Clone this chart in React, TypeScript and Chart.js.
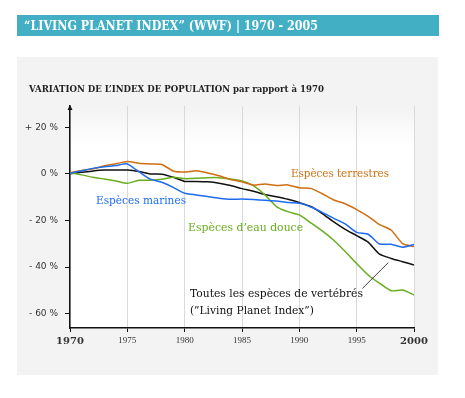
import React, { useEffect, useRef } from "react";
import { Chart, registerables } from "chart.js";

Chart.register(...registerables);

// ---------- DATA ----------
const years = [
  1970, 1971, 1972, 1973, 1974, 1975, 1976, 1977, 1978, 1979,
  1980, 1981, 1982, 1983, 1984, 1985, 1986, 1987, 1988, 1989,
  1990, 1991, 1992, 1993, 1994, 1995, 1996, 1997, 1998, 1999, 2000,
];

const terrestres = [
  0.5, 1.5, 2.2, 3.5, 4.4, 5.3, 4.6, 4.3, 4.1, 1.3,
  0.8, 1.4, 0.4, -0.8, -2.4, -3.4, -4.8, -4.3, -5.0, -4.7,
  -5.9, -6.2, -8.5, -11.2, -12.8, -15.3, -18.2, -21.8, -24.1, -29.9, -31.2,
];

const marines = [
  0.3, 1.3, 2.4, 3.1, 3.6, 4.3, 1.0, -2.2, -3.6, -5.8,
  -8.3, -9.0, -9.7, -10.4, -10.9, -10.8, -11.0, -11.3, -11.6, -12.3,
  -12.6, -14.2, -16.5, -19.1, -21.5, -25.1, -25.9, -30.1, -30.2, -31.5, -30.3,
];

const eauDouce = [
  0.5, -0.4, -1.4, -2.2, -3.0, -4.0, -2.7, -2.7, -2.3, -1.4,
  -2.0, -1.9, -1.6, -1.6, -2.2, -3.0, -5.0, -9.0, -14.0, -16.2,
  -17.6, -21.0, -24.5, -28.5, -33.3, -38.5, -43.4, -47.0, -50.2, -49.9, -52.0,
];

const vertebres = [
  0.1, 0.7, 1.3, 1.7, 1.7, 1.7, 1.1, 0.0, -0.1, -1.4,
  -3.2, -3.2, -3.4, -4.0, -5.0, -6.3, -7.4, -8.8, -9.8, -10.9,
  -12.3, -14.0, -17.0, -20.6, -23.8, -26.5, -29.3, -34.5, -36.3, -37.7, -39.1,
];

const seriesNames = [
  "Espèces terrestres",
  "Espèces marines",
  "Espèces d’eau douce",
  "Toutes les espèces de vertébrés",
];
const indexLabel = "(”Living Planet Index”)";

const yTickValues = [20, 0, -20, -40, -60];
const xTickValues = [1970, 1975, 1980, 1985, 1990, 1995, 2000];

const titleText = "“LIVING PLANET INDEX” (WWF) | 1970 - 2005";
const subtitleText = "VARIATION DE L’INDEX DE POPULATION par rapport à 1970";

// ---------- STYLE ----------
const COL_ORANGE = "#cf6e12";
const COL_BLUE = "#1f6bef";
const COL_GREEN = "#68ac1f";
const COL_BLACK = "#111111";

function drawFit(
  ctx: CanvasRenderingContext2D,
  text: string,
  x: number,
  y: number,
  font: string,
  color: string,
  width: number,
  baseline: CanvasTextBaseline = "alphabetic"
) {
  ctx.save();
  ctx.font = font;
  ctx.fillStyle = color;
  ctx.textAlign = "left";
  ctx.textBaseline = baseline;
  const w = ctx.measureText(text).width;
  ctx.translate(x, y);
  ctx.scale(width / w, 1);
  ctx.fillText(text, 0, 0);
  ctx.restore();
}

const decorPlugin = {
  id: "decor",
  beforeDraw(chart: any) {
    const { ctx, chartArea: a } = chart;
    ctx.save();
    // panel
    ctx.fillStyle = "#f3f3f3";
    ctx.fillRect(17, 57, 421, 318);
    // title bar
    ctx.fillStyle = "#42afc4";
    ctx.fillRect(17, 15, 422, 21);
    drawFit(ctx, titleText, 24, 30, "bold 12px 'DejaVu Serif'", "#ffffff", 294);
    drawFit(ctx, subtitleText, 29, 92, "bold 9.5px 'DejaVu Serif'", "#222222", 295);
    // plot background
    const g = ctx.createLinearGradient(0, a.top, 0, a.top + 40);
    g.addColorStop(0, "#f3f3f3");
    g.addColorStop(1, "#ffffff");
    ctx.fillStyle = g;
    ctx.fillRect(a.left, a.top, a.right - a.left, a.bottom - a.top);
    ctx.restore();
  },
  afterDraw(chart: any) {
    const { ctx, chartArea: a } = chart;
    const xs = chart.scales.x;
    const ys = chart.scales.y;
    const px = (v: number) => xs.getPixelForValue(v);
    const py = (v: number) => ys.getPixelForValue(v);
    const font = "11.5px 'DejaVu Serif'";
    drawFit(ctx, seriesNames[0], px(1989.27), py(0), font, COL_ORANGE, 98, "middle");
    drawFit(ctx, seriesNames[1], px(1972.27), py(-11.6), font, COL_BLUE, 90, "middle");
    drawFit(ctx, seriesNames[2], px(1980.3), py(-23.2), font, COL_GREEN, 115, "middle");
    drawFit(ctx, seriesNames[3], px(1980.46), py(-51.6), font, COL_BLACK, 173, "middle");
    drawFit(ctx, indexLabel, px(1980.46), py(-58.9), font, COL_BLACK, 124, "middle");
    // leader line
    ctx.save();
    ctx.strokeStyle = "#111";
    ctx.lineWidth = 0.8;
    ctx.beginPath();
    ctx.moveTo(px(1995.5), py(-49.2));
    ctx.lineTo(px(1997.76), py(-38.1));
    ctx.stroke();
    // arrow on y axis
    ctx.fillStyle = "#111";
    ctx.beginPath();
    ctx.moveTo(a.left - 2.5, a.top + 4);
    ctx.lineTo(a.left, a.top - 1);
    ctx.lineTo(a.left + 2.5, a.top + 4);
    ctx.closePath();
    ctx.fill();
    ctx.restore();
  },
};

function makeSeries(label: string, values: number[], color: string) {
  return {
    label,
    data: years.map((y, i) => ({ x: y, y: values[i] })),
    borderColor: color,
    backgroundColor: color,
    borderWidth: 1.5,
    pointRadius: 0,
    tension: 0.2,
    fill: false,
  };
}

export default function App() {
  const ref = useRef<HTMLCanvasElement | null>(null);
  useEffect(() => {
    if (!ref.current) return;
    const chart = new Chart(ref.current, {
      type: "line",
      data: {
        datasets: [
          makeSeries(seriesNames[1], marines, COL_BLUE),
          makeSeries(seriesNames[0], terrestres, COL_ORANGE),
          makeSeries(seriesNames[2], eauDouce, COL_GREEN),
          makeSeries(seriesNames[3], vertebres, COL_BLACK),
        ],
      },
      options: {
        responsive: false,
        animation: false,
        events: [],
        layout: { padding: { left: 0, right: 51, top: 106, bottom: 0 } },
        plugins: {
          legend: { display: false },
          tooltip: { enabled: false },
          title: { display: false },
        },
        scales: {
          x: {
            type: "linear",
            min: 1970,
            max: 2000,
            afterBuildTicks: (s: any) => {
              s.ticks = xTickValues.map((v) => ({ value: v }));
            },
            afterFit: (s: any) => {
              s.height = 70;
            },
            border: { color: "#111", width: 1.5 },
            grid: {
              color: "#d9d9d9",
              lineWidth: 1,
              tickColor: "#111",
              tickLength: 4,
            },
            ticks: {
              padding: 3,
              color: "#333",
              maxRotation: 0,
              autoSkip: false,
              callback: (v: any) => String(v),
              font: (c: any) => {
                const v = c.tick ? c.tick.value : 0;
                return v === 1970 || v === 2000
                  ? { family: "'DejaVu Serif'", size: 10, weight: "bold" }
                  : { family: "'Liberation Serif'", size: 9, weight: "normal" };
              },
            },
          },
          y: {
            type: "linear",
            min: -66.2,
            max: 29.2,
            afterBuildTicks: (s: any) => {
              s.ticks = yTickValues.map((v) => ({ value: v }));
            },
            afterFit: (s: any) => {
              s.width = 70;
            },
            border: { color: "#111", width: 1.5 },
            grid: {
              drawOnChartArea: false,
              drawTicks: true,
              tickColor: "#111",
              tickLength: 5,
            },
            ticks: {
              padding: 7,
              color: "#333",
              font: { family: "'DejaVu Sans'", size: 9 },
              callback: (v: any) =>
                v > 0 ? `+ ${v} %` : v < 0 ? `- ${Math.abs(v)} %` : "0 %",
            },
          },
        },
      },
      plugins: [decorPlugin],
    } as any);
    return () => chart.destroy();
  }, []);

  return (
    <canvas
      ref={ref}
      width={465}
      height={398}
      style={{ position: "absolute", left: 0, top: 0, width: 465, height: 398 }}
    />
  );
}
